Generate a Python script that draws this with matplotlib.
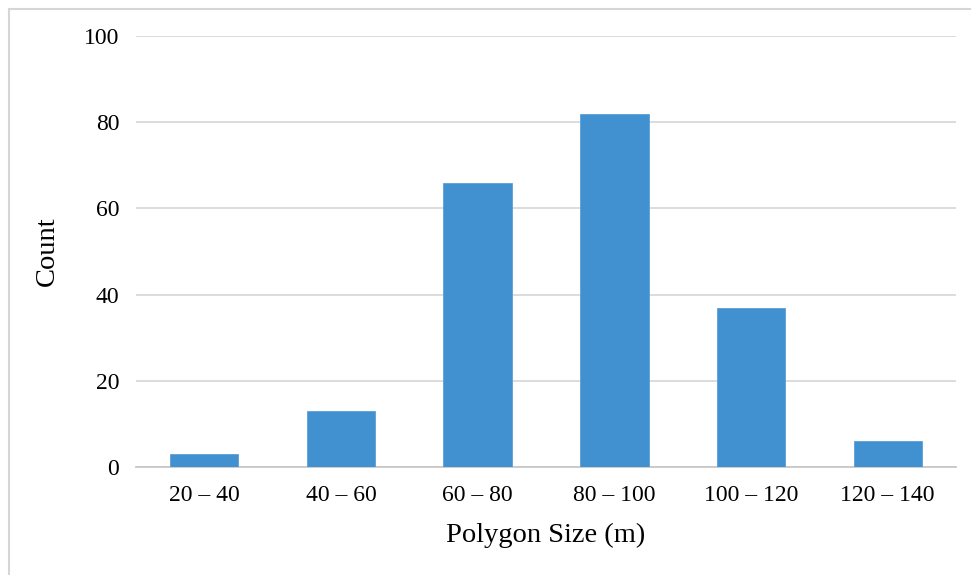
import matplotlib
matplotlib.use("Agg")
import matplotlib.pyplot as plt
from matplotlib.lines import Line2D

bins = ["20 – 40", "40 – 60", "60 – 80", "80 – 100", "100 – 120", "120 – 140"]
counts = [3, 13, 66, 82, 37, 6]
y_ticks = [0, 20, 40, 60, 80, 100]

plt.rcParams["font.family"] = ["Liberation Serif", "DejaVu Serif"]

fig = plt.figure(figsize=(9.71, 5.75), dpi=100)
ax = fig.add_axes([0.140, 0.1878, 0.8446, 0.7496])

xs = range(len(bins))
ax.bar(xs, counts, width=0.5, color="#4190CF", edgecolor="#5A9FD8", linewidth=0.6, zorder=3)

ax.set_xlim(-0.5, len(bins) - 0.5)
ax.set_ylim(0, 100)
ax.set_yticks(y_ticks)
ax.set_xticks(list(xs))
ax.set_xticklabels(bins)
ax.tick_params(axis="both", length=0, labelsize=17, colors="#000000")
ax.tick_params(axis="x", pad=13)
ax.tick_params(axis="y", pad=12)
ax.grid(axis="y", color="#D9D9D9", linewidth=1.3, zorder=0)
for side in ("top", "right", "left"):
    ax.spines[side].set_visible(False)
ax.spines["bottom"].set_color("#C8C8C8")
ax.spines["bottom"].set_linewidth(1.3)

ax.set_xlabel("Polygon Size (m)", fontsize=20.5, labelpad=12)
ax.set_ylabel("Count", fontsize=20.5, labelpad=17)

# thin frame on the left and top edges
fig.add_artist(Line2D([9 / 971, 9 / 971], [0, 1 - 9 / 575], transform=fig.transFigure,
                      color="#D6D6D6", linewidth=1.5))
fig.add_artist(Line2D([9 / 971, 1], [1 - 9 / 575, 1 - 9 / 575], transform=fig.transFigure,
                      color="#D6D6D6", linewidth=1.5))

fig.savefig("out.png", dpi=100)
